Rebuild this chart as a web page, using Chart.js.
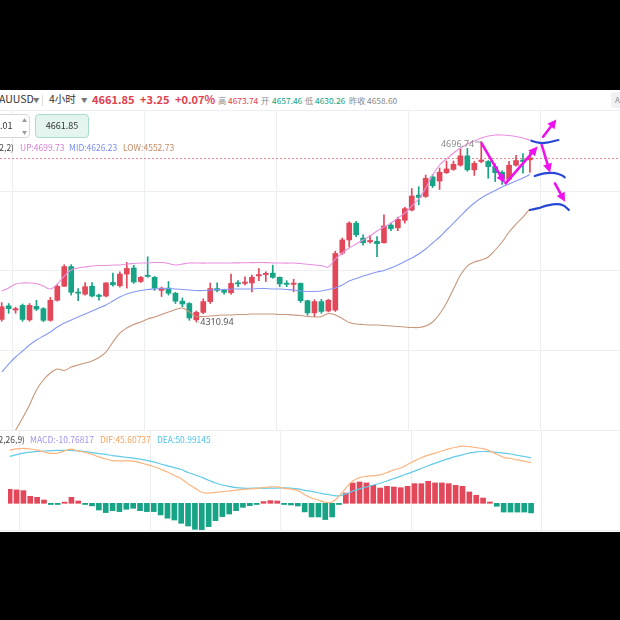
<!DOCTYPE html>
<html><head><meta charset="utf-8">
<script src="https://cdn.jsdelivr.net/npm/chart.js@4.4.1/dist/chart.umd.min.js"></script>
<style>
html,body{margin:0;padding:0;background:#000;}
body{width:620px;height:620px;position:relative;overflow:hidden;font-family:"Noto Sans CJK SC","Noto Sans",sans-serif;}
#page{position:absolute;left:0;top:90px;width:620px;height:442px;background:#fff;}
.t{position:absolute;white-space:nowrap;line-height:1;}
canvas{position:absolute;left:0;}
#main{top:110px;}
#macd{top:430px;}
.hl{position:absolute;left:0;width:620px;height:1px;background:#eceef2;}
</style></head>
<body>
<div id="page"></div>
<div class="hl" style="top:110px"></div>
<div class="hl" style="top:430px"></div>
<div class="hl" style="top:530px"></div>
<canvas id="main" width="620" height="320"></canvas>
<canvas id="macd" width="620" height="100"></canvas>

<!-- header row -->
<div class="t" style="left:-7px;top:94px;font-size:10.5px;color:#333">XAUUSD</div>
<div class="t" style="left:33px;top:96.5px;font-size:6.5px;color:#777">▼</div>
<div style="position:absolute;left:42px;top:95px;width:1px;height:11px;background:#ddd"></div>
<div class="t" style="left:49px;top:94px;font-size:10.5px;color:#333">4小时</div>
<div class="t" style="left:81px;top:96.5px;font-size:6.5px;color:#777">▼</div>
<div class="t" style="left:92px;top:94px;font-size:11px;font-weight:bold;color:#e2404f">4661.85</div>
<div class="t" style="left:140px;top:94px;font-size:11px;font-weight:bold;color:#e2404f">+3.25</div>
<div class="t" style="left:175px;top:94px;font-size:11px;font-weight:bold;color:#e2404f">+0.07%</div>
<div class="t" style="left:218px;top:96px;font-size:8.2px;color:#888">高</div>
<div class="t" style="left:228px;top:96px;font-size:8.4px;color:#e2404f">4673.74</div>
<div class="t" style="left:261px;top:96px;font-size:8.2px;color:#888">开</div>
<div class="t" style="left:272px;top:96px;font-size:8.4px;color:#13a385">4657.46</div>
<div class="t" style="left:305px;top:96px;font-size:8.2px;color:#888">低</div>
<div class="t" style="left:315px;top:96px;font-size:8.4px;color:#13a385">4630.26</div>
<div class="t" style="left:349px;top:96px;font-size:8.2px;color:#888">昨收</div>
<div class="t" style="left:367px;top:96px;font-size:8.4px;color:#888">4658.60</div>
<div style="position:absolute;left:611px;top:92px;width:16px;height:16px;background:#f0f1f4;border-radius:3px"></div>
<div class="t" style="left:615px;top:96px;font-size:8px;color:#888">A</div>

<!-- row 2 -->
<div style="position:absolute;left:-12px;top:114px;width:40px;height:22px;border:1px solid #d8d8d8;border-radius:4px;background:#fff"></div>
<div class="t" style="left:-5px;top:121px;font-size:9px;color:#333">0.01</div>
<div class="t" style="left:22px;top:117px;font-size:5px;color:#999">▲</div>
<div class="t" style="left:22px;top:129px;font-size:5px;color:#999">▼</div>
<div style="position:absolute;left:35px;top:114px;width:52px;height:22px;border:1px solid #a9dccb;border-radius:4px;background:#e4f5ef"></div>
<div class="t" style="left:35px;top:121px;width:54px;text-align:center;font-size:9px;color:#333">4661.85</div>

<!-- row 3 -->
<div class="t" style="right:606px;top:142.5px;font-size:8.5px;color:#444">BOLL(20,2,2)</div>
<div class="t" style="left:20px;top:142.5px;font-size:8.5px;color:#d67fd6">UP:4699.73</div>
<div class="t" style="left:69px;top:142.5px;font-size:8.5px;color:#7b8cf0">MID:4626.23</div>
<div class="t" style="left:123px;top:142.5px;font-size:8.5px;color:#c58a66">LOW:4552.73</div>

<!-- macd legend -->
<div class="t" style="right:595px;top:434.5px;font-size:8.5px;color:#444">MACD(12,26,9)</div>
<div class="t" style="left:30px;top:434.5px;font-size:8.5px;color:#a391f2">MACD:-10.76817</div>
<div class="t" style="left:100px;top:434.5px;font-size:8.5px;color:#f3a35f">DIF:45.60737</div>
<div class="t" style="left:157px;top:434.5px;font-size:8.5px;color:#4fc3e6">DEA:50.99145</div>

<script>
// ---------- data ----------
const opens  = [4316,4345,4336,4346,4315,4344,4339,4314,4357,4387,4429,4374,4370,4387,4368,4366,4395,4388,4413,4426,4397,4410,4406,4378,4383,4372,4355,4350,4315,4331,4354,4382,4378,4373,4394,4393,4394,4409,4412,4415,4406,4393,4391,4393,4356,4330,4354,4334,4336,4458,4486,4522,4490,4482,4483,4480,4518,4512,4528,4550,4582,4579,4621,4612,4630,4637,4646,4666,4636,4654,4654,4643,4631,4616,4646,4657,4657.46];
const highs  = [4352,4350,4342,4349,4350,4357,4341,4363,4390,4433,4433,4382,4395,4395,4370,4395,4415,4418,4438,4432,4408,4450,4408,4385,4397,4374,4362,4352,4334,4360,4394,4394,4381,4413,4399,4407,4411,4425,4418,4432,4407,4399,4402,4394,4357,4358,4359,4359,4462,4490,4525,4526,4497,4496,4493,4540,4522,4535,4556,4596,4600,4625,4626,4640,4655,4655,4681,4682,4654,4696.74,4656,4649,4634,4654,4667,4671,4673.74];
const lows   = [4312,4329,4329,4312,4312,4335,4311,4312,4355,4386,4368,4356,4368,4364,4357,4364,4387,4385,4383,4393,4395,4406,4378,4365,4368,4350,4343,4314,4310.94,4328,4350,4375,4370,4370,4386,4390,4375,4399,4397,4404,4386,4386,4375,4352,4325,4322,4329,4332,4333,4455,4471,4493,4475,4479,4450,4479,4506,4506,4522,4548,4561,4577,4598,4594,4628,4635,4644,4633,4624,4651,4618,4611,4605,4614,4644,4629,4630.26];
const closes = [4343,4339,4339,4316,4346,4338,4314,4357,4387,4429,4374,4372,4386,4366,4365,4394,4390,4413,4425,4396,4406,4408,4383,4383,4372,4355,4349,4319,4331,4354,4382,4378,4374,4393,4392,4396,4406,4412,4414,4406,4392,4391,4393,4356,4330,4354,4333,4357,4457,4486,4522,4497,4480,4485,4478,4516,4510,4530,4553,4580,4577,4618,4602,4631,4638,4648,4666,4636,4650,4657,4643,4630,4617,4646,4656,4654,4661.85];

const bollUp  = [4376.7,4383,4391.7,4393.9,4393.9,4392.8,4387.4,4381,4391.7,4408.8,4421.7,4426,4428.1,4430.2,4431.3,4431.3,4432.4,4432.4,4434.5,4435.6,4436.7,4436.7,4437.7,4437.7,4435.6,4432.4,4434.5,4436.7,4436.7,4436.5,4436.7,4436.7,4436.6,4436.7,4437,4437.2,4437.5,4437.7,4437.5,4437,4436.7,4436.5,4436.7,4435.6,4434,4432.4,4431.3,4428.1,4445,4458,4468.7,4477.3,4485.9,4494.4,4505.1,4513.7,4522.2,4532.9,4543.6,4558.6,4573.6,4597,4625,4646.4,4659.2,4672,4682.8,4691.3,4697.7,4704.1,4708.4,4710.6,4710.6,4709.5,4707.4,4704.1,4699.73];
const bollMid = [4203.4,4220.4,4235.5,4248.3,4261.2,4271.8,4280.4,4289,4299.7,4308.2,4314.7,4321.1,4327.5,4333.9,4340.4,4346.8,4355.3,4363.9,4370.3,4374.6,4377.8,4380,4381,4382.1,4382.1,4381,4380,4378.9,4377.8,4377.8,4378.9,4380,4380,4381,4381,4381,4381,4382.1,4382.1,4381,4381,4380,4378.9,4376.7,4375.7,4375.7,4376.7,4380,4383.2,4389.6,4398.1,4403.5,4408.8,4413.1,4417.4,4420.6,4426,4432.4,4439.9,4447.4,4455.9,4466.6,4479.5,4492.3,4507.3,4522.2,4537.2,4552.2,4565,4575.8,4584.3,4591.8,4599.3,4605.7,4612.1,4618.6,4626.23];
const bollLow = [4032,4055,4079,4104.9,4132.8,4164.9,4186.3,4201.3,4209.8,4206.6,4214.1,4218.4,4222.6,4226.9,4234.4,4246.2,4267.6,4286.8,4297.5,4305,4310.4,4316.8,4321.1,4326.4,4331.8,4337.1,4340.3,4331.8,4322.2,4322.2,4323.2,4324.3,4325.4,4325.4,4326.4,4326.4,4327.5,4327.5,4327.5,4327.5,4326.4,4326.4,4325.4,4324.3,4322.2,4321.1,4322.2,4328.6,4325.4,4317.9,4309.4,4306.1,4305,4304,4304,4302.9,4301.8,4300.8,4299.7,4298.6,4298.6,4301.8,4310.4,4327.5,4351,4381,4411,4430.2,4438.8,4443.1,4449.5,4464.5,4481.6,4503,4520.1,4535.1,4552.73];

const dif  = [59.7,61.0,61.6,60.8,59.5,57.5,56.0,56.2,58.8,60.6,58.5,57.0,54.8,52.0,49.6,47.9,47.5,47.6,47.2,45.6,43.3,41.2,38.3,35.0,31.2,27.6,21.8,17.0,12.4,11.5,12.3,13.0,13.8,14.8,15.5,16.2,16.8,17.6,18.5,18.3,16.8,15.9,14.5,9.5,6.0,3.7,1.2,1.4,8.0,17.0,25.0,28.8,30.2,30.9,31.8,34.5,37.5,39.6,43.5,47.5,51.0,54.0,56.2,58.6,61.0,62.8,64.0,63.5,62.3,61.2,58.5,55.0,51.5,50.2,48.6,47.2,45.61];
const dea  = [52.5,54.5,56.2,57.3,58.0,58.6,59.0,59.2,59.3,59.2,58.8,58.0,56.8,55.7,54.7,53.4,52.5,51.6,50.6,49.5,48.0,46.4,44.0,42.0,40.0,37.8,34.5,32.0,29.0,25.8,22.8,20.5,18.9,17.6,17.0,16.8,17.0,16.8,17.0,17.1,17.2,16.9,16.2,14.5,13.3,11.8,10.2,9.0,8.3,10.5,13.6,16.2,18.3,20.5,22.5,25.0,27.8,30.4,33.2,36.0,39.0,42.0,44.8,47.5,50.0,52.5,54.3,56.5,57.5,58.0,57.8,57.0,56.2,55.2,53.8,52.4,50.99];
const hist = [15.7,15,14.2,7.8,6.7,3.7,-0.8,-0.8,1.1,6.7,2.6,-0.8,-2.9,-7.5,-10.4,-8.2,-9.3,-6.7,-5.6,-8.2,-9.3,-9.3,-13,-16.7,-18.7,-22.4,-25.4,-29.1,-29.9,-26.1,-19.4,-14.9,-12,-8.2,-4.5,-2.6,-0.8,1.9,3,2.6,-0.8,-1.9,-3,-9.6,-15.3,-15.3,-18.2,-15.3,-0.8,11.5,22.8,23.9,22.8,20.1,17.1,19,18.3,17.5,19,22,22,24.6,22.8,22.8,22,20.1,19,12.7,9,5.9,1.5,-3.3,-9.8,-9.8,-9.8,-9.8,-10.77];

const gridIdx   = [11, 30, 49, 68];            // vertical grid (candle index)
const priceGrid = [4250.5, 4421.7, 4590.7];     // horizontal grid (price)

// hand-drawn annotations, in (candle index, price)
const magentaArrows = [
  [[69.06,4692.8],[72.4,4607.2]],
  [[72.5,4607.2],[77.1,4685.9]],
  [[77.9,4706.9],[79.8,4744]],
  [[77.7,4689.2],[78.9,4629.8]],
  [[79.6,4607.2],[81.05,4567.8]]
];
const blueMarks = [
  [[76.2,4698.4],[77.0,4694.6],[77.9,4692.8],[78.9,4695.5],[80.1,4699.9]],
  [[76.7,4622.8],[77.5,4627],[78.6,4629.8],[79.6,4629.3],[80.6,4625],[81.0,4620]],
  [[76.0,4550.1],[77.3,4553.4],[78.2,4559.3],[79.3,4562],[80.3,4563],[81.0,4559],[81.6,4550.1]]
];

// ---------- styles ----------
const RED='#e2475a', GRN='#16a386';
const X_MIN=-0.245, X_MAX=88.96;
const N = closes.length;
const idx = closes.map((_,i)=>i);
const isUp = i => closes[i] >= opens[i];

function xScale(){
  return {type:'linear',min:X_MIN,max:X_MAX,offset:false,
    afterBuildTicks:a=>{a.ticks=gridIdx.map(v=>({value:v}));},
    ticks:{display:false},grid:{color:'#eceef2',drawTicks:false,lineWidth:1},border:{display:false}};
}

function drawSmooth(ctx, ch, pts, color, w){
  const x=ch.scales.x, y=ch.scales.y;
  const P=pts.map(p=>[x.getPixelForValue(p[0]),y.getPixelForValue(p[1])]);
  ctx.beginPath(); ctx.moveTo(P[0][0],P[0][1]);
  for(let k=1;k<P.length-1;k++){
    const mx=(P[k][0]+P[k+1][0])/2,my=(P[k][1]+P[k+1][1])/2;
    ctx.quadraticCurveTo(P[k][0],P[k][1],mx,my);
  }
  const L=P[P.length-1]; ctx.lineTo(L[0],L[1]);
  ctx.strokeStyle=color; ctx.lineWidth=w; ctx.lineCap='round'; ctx.lineJoin='round'; ctx.stroke();
}
function drawArrow(ctx, ch, pts, color){
  const x=ch.scales.x, y=ch.scales.y;
  const x0=x.getPixelForValue(pts[0][0]), y0=y.getPixelForValue(pts[0][1]);
  const x1=x.getPixelForValue(pts[1][0]), y1=y.getPixelForValue(pts[1][1]);
  const a=Math.atan2(y1-y0,x1-x0), hl=9, hw=4.5;
  const bx=x1-hl*Math.cos(a), by=y1-hl*Math.sin(a);
  ctx.beginPath(); ctx.moveTo(x0,y0); ctx.lineTo(bx,by);
  ctx.strokeStyle=color; ctx.lineWidth=2.6; ctx.lineCap='round'; ctx.stroke();
  ctx.beginPath(); ctx.moveTo(x1,y1);
  ctx.lineTo(bx+hw*Math.sin(a), by-hw*Math.cos(a));
  ctx.lineTo(bx-hw*Math.sin(a), by+hw*Math.cos(a));
  ctx.closePath(); ctx.fillStyle=color; ctx.fill();
}

const overlay = {
  id:'overlay',
  beforeDatasetsDraw(ch){
    const {ctx,chartArea,scales:{y}}=ch;
    const yp=Math.round(y.getPixelForValue(closes[N-1]))+0.5;
    ctx.save(); ctx.setLineDash([2,2]); ctx.strokeStyle='rgba(226,71,88,0.65)'; ctx.lineWidth=1;
    ctx.beginPath(); ctx.moveTo(chartArea.left,yp); ctx.lineTo(chartArea.right,yp); ctx.stroke(); ctx.restore();
  },
  afterDatasetsDraw(ch){
    const {ctx,scales:{x,y}}=ch;
    ctx.save();
    let hi=0, lo=0;
    highs.forEach((v,i)=>{if(v>highs[hi])hi=i;});
    lows.forEach((v,i)=>{if(v<lows[lo])lo=i;});
    ctx.font='9px "Noto Sans","Noto Sans CJK SC",sans-serif';
    ctx.fillStyle='#8a8a8a'; ctx.textBaseline='middle';
    const hx=x.getPixelForValue(hi), hy=y.getPixelForValue(highs[hi]);
    ctx.strokeStyle='#999'; ctx.lineWidth=1;
    ctx.beginPath(); ctx.moveTo(hx-6,hy+0.5); ctx.lineTo(hx,hy+0.5); ctx.stroke();
    ctx.textAlign='right'; ctx.fillText(highs[hi].toFixed(2), hx-7, hy+3);
    const lx=x.getPixelForValue(lo), ly=y.getPixelForValue(lows[lo]);
    ctx.fillStyle='#555';
    ctx.setLineDash([1,1]);
    ctx.beginPath(); ctx.moveTo(lx,ly+0.5); ctx.lineTo(lx+4,ly+0.5); ctx.stroke();
    ctx.setLineDash([]);
    ctx.textAlign='left'; ctx.fillText(lows[lo].toFixed(2), lx+4, ly+1);
    blueMarks.forEach(m=>drawSmooth(ctx,ch,m,'#2748d4',2.2));
    magentaArrows.forEach(a=>drawArrow(ctx,ch,a,'#ee10ee'));
    ctx.restore();
  }
};

const line = (data,color,w)=>({type:'line',data:data.map((v,i)=>({x:i,y:v})),borderColor:color,borderWidth:w,pointRadius:0,tension:0.35,order:0,fill:false});

new Chart(document.getElementById('main'),{
  type:'bar',
  data:{datasets:[
    line(bollUp,'#e98fdf',1.1),
    line(bollMid,'#8797f6',1.1),
    line(bollLow,'#c8967a',1.1),
    {type:'bar',data:idx.map(i=>({x:i,y:[opens[i],closes[i]]})),backgroundColor:c=>isUp(c.dataIndex)?RED:GRN,barThickness:5,grouped:false,minBarLength:1.2,borderWidth:0,order:1},
    {type:'bar',data:idx.map(i=>({x:i,y:[lows[i],highs[i]]})),backgroundColor:c=>isUp(c.dataIndex)?RED:GRN,barThickness:1,grouped:false,borderWidth:0,order:2}
  ]},
  options:{responsive:false,animation:false,events:[],
    layout:{padding:0},
    plugins:{legend:{display:false},tooltip:{enabled:false}},
    scales:{
      x:xScale(),
      y:{type:'linear',min:4079.3,max:4764.1,
        afterBuildTicks:a=>{a.ticks=priceGrid.map(v=>({value:v}));},
        ticks:{display:false},grid:{color:'#eceef2',drawTicks:false},border:{display:false}}
    }},
  plugins:[overlay]
});

new Chart(document.getElementById('macd'),{
  type:'bar',
  data:{datasets:[
    line(dif,'#fcb57e',1.2),
    line(dea,'#62cbe9',1.2),
    {type:'bar',data:idx.map(i=>({x:i,y:hist[i]})),backgroundColor:c=>hist[c.dataIndex]>=0?RED:GRN,barThickness:5,grouped:false,minBarLength:1.2,borderWidth:0,order:1}
  ]},
  options:{responsive:false,animation:false,events:[],
    layout:{padding:0},
    plugins:{legend:{display:false},tooltip:{enabled:false}},
    scales:{
      x:xScale(),
      y:{type:'linear',min:-29.9,max:82.1,ticks:{display:false},grid:{display:false},border:{display:false}}
    }}
});
</script>
</body></html>
